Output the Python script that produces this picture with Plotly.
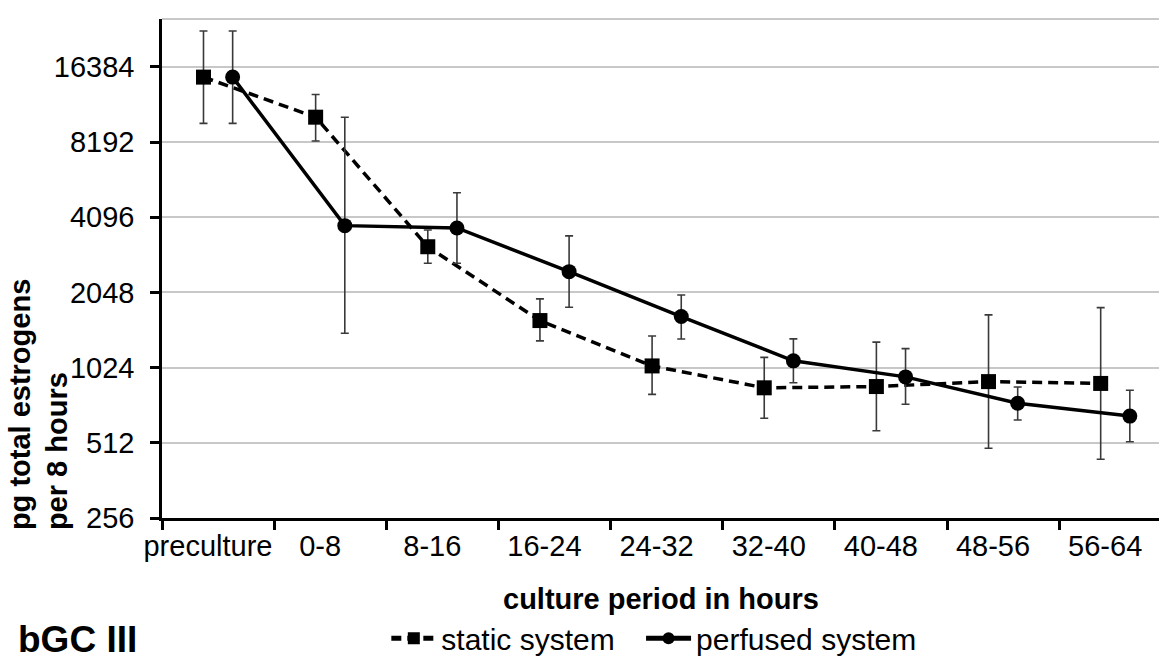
import plotly.graph_objects as go

# Culture periods (categories on the x axis)
periods = ["preculture", "0-8", "8-16", "16-24", "24-32", "32-40", "40-48", "48-56", "56-64"]

# Total estrogens (pg per 8 hours): means with upper / lower ends of the error bars
static_mean = [14900, 10300, 3120, 1580, 1040, 850, 860, 900, 885]
static_upper = [22800, 12700, 3640, 1930, 1370, 1125, 1295, 1665, 1780]
static_lower = [9730, 8270, 2680, 1310, 800, 642, 572, 487, 440]

perfused_mean = [14900, 3790, 3710, 2480, 1640, 1090, 940, 737, 655]
perfused_upper = [22800, 10300, 5130, 3450, 2000, 1335, 1220, 856, 831]
perfused_lower = [9730, 1405, 2680, 1785, 1333, 891, 730, 632, 517]

y_ticks = [256, 512, 1024, 2048, 4096, 8192, 16384]

FONT = "Liberation Sans, Arial, sans-serif"
idx = list(range(len(periods)))
shift = 0.13  # side-by-side placement of the two systems within a period


def err(mean, upper, lower):
    return dict(
        type="data", symmetric=False,
        array=[u - m for u, m in zip(upper, mean)],
        arrayminus=[m - l for m, l in zip(mean, lower)],
        color="#3a3a3a", thickness=1.6, width=4,
    )


fig = go.Figure()
fig.add_trace(go.Scatter(
    x=[i - shift for i in idx], y=static_mean, name="static system",
    mode="lines+markers", legend="legend",
    line=dict(color="black", width=3.5, dash="10px,6px"),
    marker=dict(symbol="square", size=15, color="black"),
    error_y=err(static_mean, static_upper, static_lower),
))
fig.add_trace(go.Scatter(
    x=[i + shift for i in idx], y=perfused_mean, name="perfused system",
    mode="lines+markers", legend="legend2",
    line=dict(color="black", width=3.5),
    marker=dict(symbol="circle", size=15, color="black"),
    error_y=err(perfused_mean, perfused_upper, perfused_lower),
))

legend_style = dict(
    orientation="h", xanchor="left", y=-0.241, yanchor="middle",
    font=dict(size=30, family=FONT), itemwidth=45,
    bgcolor="rgba(0,0,0,0)", itemsizing="constant",
)

fig.update_layout(
    width=1159, height=660,
    margin=dict(l=162, r=0, t=19, b=142, autoexpand=False),
    paper_bgcolor="white", plot_bgcolor="white",
    font=dict(family=FONT, size=29, color="black"),
    showlegend=True,
    legend=dict(x=0.225, **legend_style),
    legend2=dict(x=0.4805, **legend_style),
)

fig.update_xaxes(
    range=[-0.5, 8.39],
    tickmode="array",
    tickvals=[i - 0.09 for i in idx],
    ticktext=periods,
    ticks="outside", ticklen=0,
    tickfont=dict(size=29, family=FONT),
    showgrid=False, zeroline=False,
    showline=True, linecolor="black", linewidth=2.5,
    minor=dict(tickmode="linear", tick0=-0.5, dtick=1, ticks="outside",
               ticklen=9, tickwidth=2.5, tickcolor="black", showgrid=False),
)

fig.update_yaxes(
    type="log",
    range=[2.40824, 4.40586],
    tickmode="array",
    tickvals=y_ticks,
    ticktext=[str(v) for v in y_ticks],
    ticks="outside", ticklen=9, tickwidth=2.5, tickcolor="black",
    tickfont=dict(size=29, family=FONT),
    ticklabelstandoff=10,
    showgrid=True, gridcolor="#c8c8c8", gridwidth=2,
    zeroline=False,
    showline=True, linecolor="black", linewidth=2.5,
)

# top border of the plotting area
fig.add_shape(type="line", xref="paper", yref="paper", x0=0, x1=1, y0=1, y1=1,
              line=dict(color="#c8c8c8", width=2), layer="below")

# axis titles and panel label
fig.add_annotation(
    text="<b>pg total estrogens<br>per 8 hours</b>", textangle=-90, align="left",
    xref="paper", yref="paper", x=-0.1235, y=0.228,
    xanchor="center", yanchor="middle", showarrow=False,
    font=dict(size=29, family=FONT),
)
fig.add_annotation(
    text="<b>culture period in hours</b>",
    xref="paper", yref="paper", x=0.5, y=-0.163,
    xanchor="center", yanchor="middle", showarrow=False,
    font=dict(size=29, family=FONT),
)
fig.add_annotation(
    text="<b>bGC III</b>",
    xref="paper", yref="paper", x=-0.146, y=-0.243,
    xanchor="left", yanchor="middle", showarrow=False,
    font=dict(size=37, family=FONT),
)

fig.write_html("out.html")
